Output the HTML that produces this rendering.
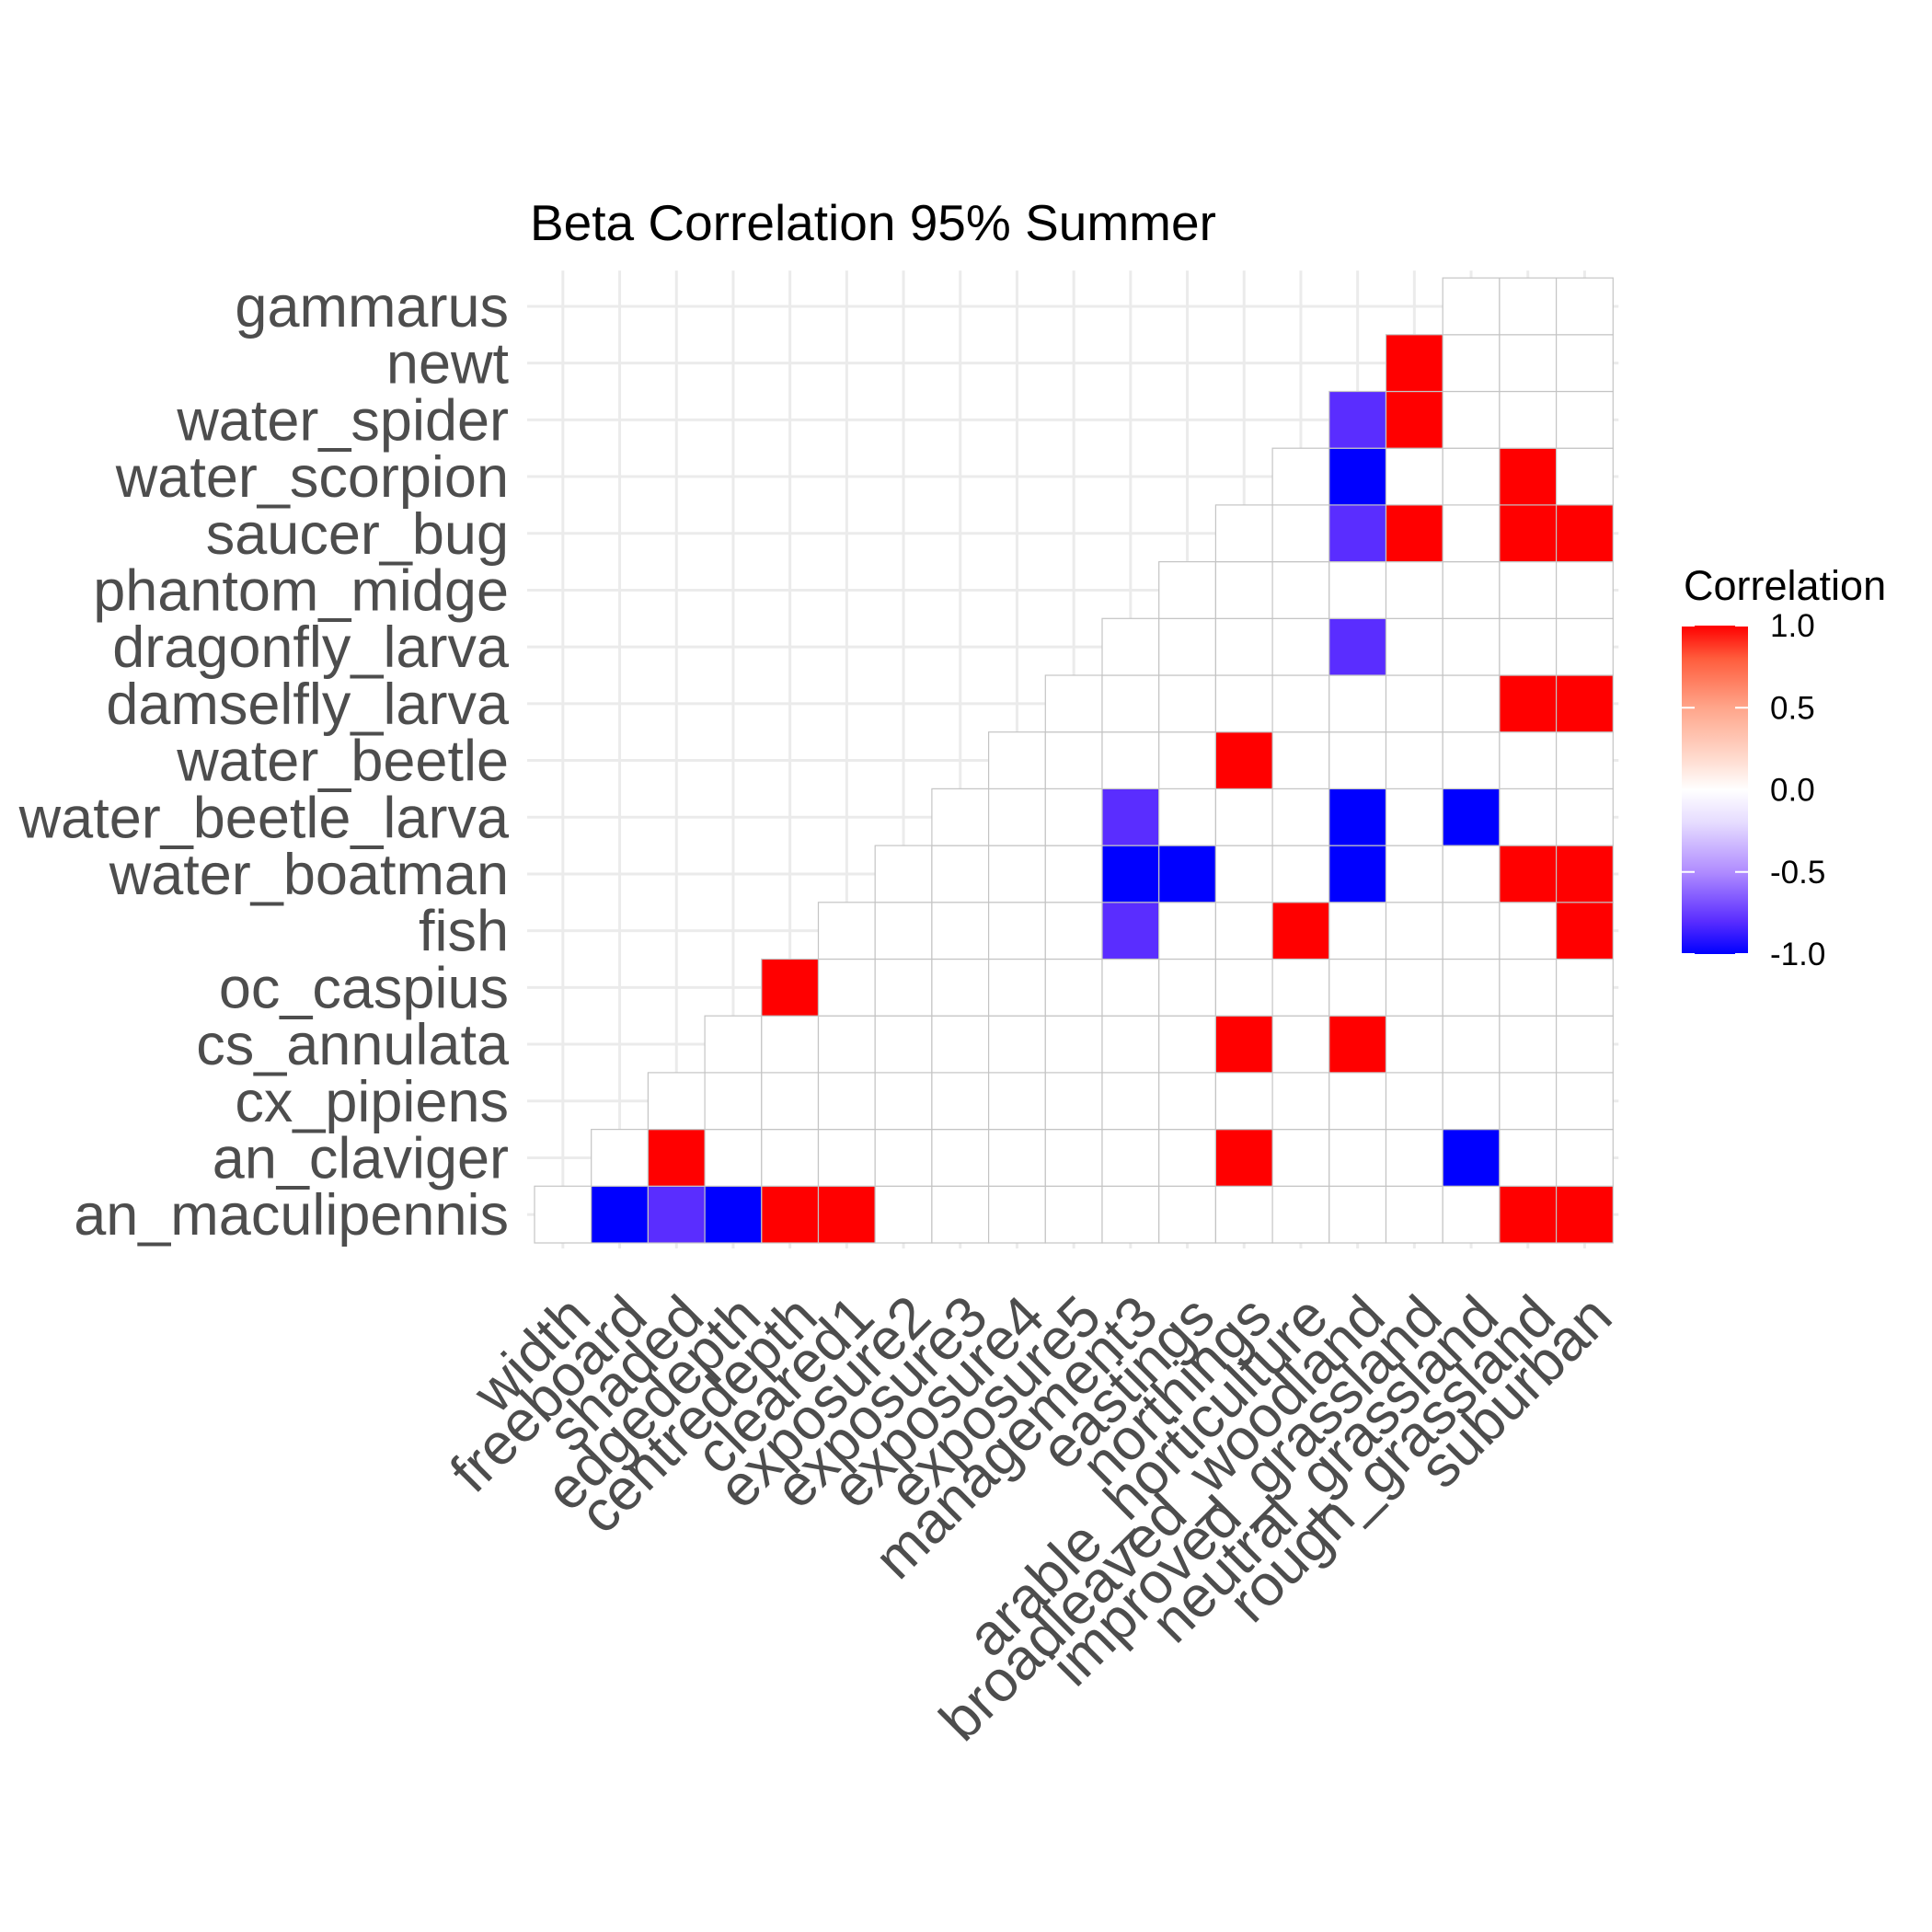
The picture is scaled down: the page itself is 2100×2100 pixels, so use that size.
<!DOCTYPE html>
<html><head><meta charset="utf-8"><style>
html,body{margin:0;padding:0;background:#fff;}
svg{display:block;font-family:"Liberation Sans",sans-serif;}
</style></head><body>
<svg id="chart" width="2100" height="2100" viewBox="0 0 2100 2100">
<defs>
<linearGradient id="lg" x1="0" y1="1" x2="0" y2="0">
<stop offset="0" stop-color="#0000ff"/>
<stop offset="0.1" stop-color="#5a2dff"/>
<stop offset="0.25" stop-color="#b08cff"/>
<stop offset="0.4" stop-color="#e6dcff"/>
<stop offset="0.5" stop-color="#ffffff"/>
<stop offset="0.6" stop-color="#ffd9cc"/>
<stop offset="0.75" stop-color="#ffa58a"/>
<stop offset="0.9" stop-color="#ff5c3c"/>
<stop offset="1" stop-color="#ff0000"/>
</linearGradient>
</defs>
<text x="576" y="261" font-size="55" fill="#000">Beta Correlation 95% Summer</text>
<g id="grid"></g>
<g id="tiles"></g>
<g id="ylabels"></g>
<g id="xlabels"></g>
<g>
<text x="1830" y="652" font-size="45" fill="#000">Correlation</text>
<rect x="1828" y="680" width="72" height="357" fill="url(#lg)"/>
<g id="legticks"></g>
</g>
</svg>
<script>
const cols = ["width","freeboard","shaded","edgedepth","centredepth","cleared1","exposure2","exposure3","exposure4","exposure5","management3","eastings","northings","arable_horticulture","broadleaved_woodland","improved_grassland","neutral_grassland","rough_grassland","suburban"];
const rows = ["an_maculipennis","an_claviger","cx_pipiens","cs_annulata","oc_caspius","fish","water_boatman","water_beetle_larva","water_beetle","damselfly_larva","dragonfly_larva","phantom_midge","saucer_bug","water_scorpion","water_spider","newt","gammarus"];
// significant correlations: [rowIndex, colIndex, value]
const sigRow = [0,0,0,0,0,0,0, 1,1,1, 3,3, 4, 5,5,5, 6,6,6,6,6, 7,7,7, 8, 9,9, 10, 12,12,12,12, 13,13, 14,14, 15];
const sigCol = [1,2,3,4,5,17,18, 2,12,16, 12,14, 4, 10,13,18, 10,11,14,17,18, 10,14,16, 12, 17,18, 14, 14,15,17,18, 14,17, 14,15, 15];
const sigVal = [-1,-0.8,-1,1,1,1,1, 1,1,-1, 1,1, 1, -0.8,1,1, -1,-1,-1,1,1, -0.8,-1,-1, 1, 1,1, -0.8, -0.8,1,1,1, -1,1, -0.8,1, 1];
const legendTicks = [1.0,0.5,0.0,-0.5,-1.0];
const legendLabels = ["1.0","0.5","0.0","-0.5","-1.0"];

const NS="http://www.w3.org/2000/svg";
const x0=581, cw=61.7, y1=1351, ch=61.7;
const xC = c => x0 + (c+0.5)*cw;
const yC = r => y1 - (r+0.5)*ch;
const legY = v => 1037 - (v+1)/2*357;
function mk(t,a,p){const e=document.createElementNS(NS,t);for(const k in a)e.setAttribute(k,a[k]);p.appendChild(e);return e;}
function lerp(a,b,t){return a.map((v,i)=>Math.round(v+(b[i]-v)*t));}
function color(v){
  const st=[[-1,[0,0,255]],[-0.8,[90,45,255]],[-0.5,[176,140,255]],[-0.2,[230,220,255]],[0,[255,255,255]],[0.2,[255,217,204]],[0.5,[255,165,138]],[0.8,[255,92,60]],[1,[255,0,0]]];
  for(let i=0;i<st.length-1;i++){if(v<=st[i+1][0]){const t=(v-st[i][0])/(st[i+1][0]-st[i][0]);return "rgb("+lerp(st[i][1],st[i+1][1],Math.max(0,t)).join(",")+")";}}
  return "rgb(255,0,0)";
}
const grid=document.getElementById("grid");
cols.forEach((c,i)=>{const l=mk("line",{x1:xC(i),x2:xC(i),y1:y1-rows.length*ch-8,y2:y1+6,stroke:"#ebebeb","stroke-width":3},grid);

});
rows.forEach((r,i)=>{const l=mk("line",{x1:x0-8,x2:x0+cols.length*cw+6,y1:yC(i),y2:yC(i),stroke:"#ebebeb","stroke-width":3},grid);

});
const tiles=document.getElementById("tiles");
const vals={};
sigVal.forEach((v,k)=>{vals[sigRow[k]+"_"+sigCol[k]]=v;});
rows.forEach((r,ri)=>{for(let ci=ri;ci<cols.length;ci++){const v=vals[ri+"_"+ci]||0;
const t=mk("rect",{x:x0+ci*cw,y:y1-(ri+1)*ch,width:cw,height:ch,fill:color(v),stroke:"#c4c4c4","stroke-width":1.2},tiles);

}});
const yl=document.getElementById("ylabels");
rows.forEach((r,i)=>{const t=mk("text",{x:553,y:yC(i)+22,"font-size":63,fill:"#4d4d4d","text-anchor":"end"},yl);t.textContent=r;

});
const xl=document.getElementById("xlabels");
cols.forEach((c,i)=>{const x=xC(i)+33,y=y1+84;const t=mk("text",{x:x,y:y,"font-size":63,fill:"#4d4d4d","text-anchor":"end",transform:"rotate(-45 "+x+" "+y+")"},xl);t.textContent=c;

});
const lt=document.getElementById("legticks");
legendTicks.forEach((v,i)=>{const y=legY(v);
const a=mk("line",{x1:1828,x2:1842,y1:y,y2:y,stroke:"#fff","stroke-width":2},lt);


const b=mk("line",{x1:1886,x2:1900,y1:y,y2:y,stroke:"#fff","stroke-width":2},lt);


const t=mk("text",{x:1924,y:y+12,"font-size":35,fill:"#000"},lt);t.textContent=legendLabels[i];

});
</script>
</body></html>
